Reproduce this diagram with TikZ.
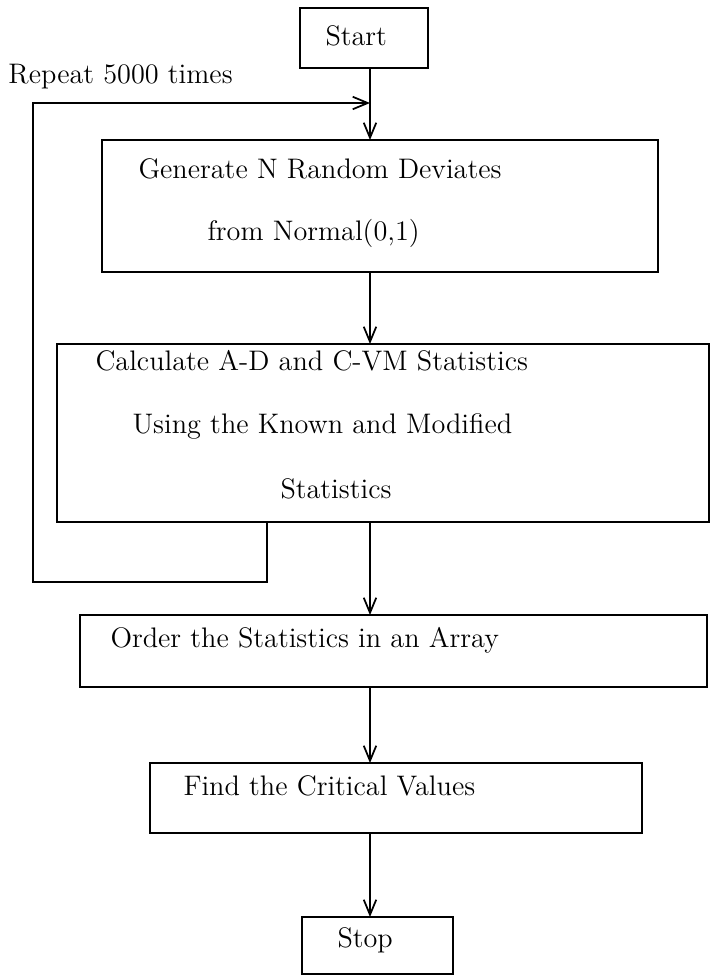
\documentclass[tikz,border=0pt]{standalone}
\usetikzlibrary{arrows.meta}
\begin{document}
\begin{tikzpicture}[x=0.4pt,y=-0.4pt]
\tikzset{
  box/.style={draw, line width=0.8pt, rectangle, inner sep=0pt, outer sep=0pt},
  lbl/.style={anchor=base west, inner sep=0pt, font=\fontsize{11.3}{13.5}\selectfont},
  arr/.style={line width=0.7pt, -{Straight Barb[length=6pt,width=5pt,line width=0.7pt]}}
}
\useasboundingbox (0,0) rectangle (710,975);
% boxes
\node[box, minimum width=51.2pt, minimum height=24pt] (start) at (364,38) {};
\node[box, minimum width=222.4pt, minimum height=52.8pt] (gen) at (380,206) {};
\node[box, minimum width=260.8pt, minimum height=71.2pt] (calc) at (383,433) {};
\node[box, minimum width=250.8pt, minimum height=28.8pt] (ord) at (393.5,651) {};
\node[box, minimum width=196.8pt, minimum height=28pt] (find) at (396,798) {};
\node[box, minimum width=60.4pt, minimum height=22.8pt] (stop) at (377.5,945.5) {};
% texts
\node[lbl] (rep) at (8,83) {Repeat 5000 times};
\node[lbl] (startT) at (325,45) {Start};
\node[lbl] (gen1) at (138,178) {Generate N Random Deviates};
\node[lbl] (gen2) at (207,240) {from Normal(0,1)};
\node[lbl] (calc1) at (95,370) {Calculate A-D and C-VM Statistics};
\node[lbl] (calc2) at (132,433) {Using the Known and Modified};
\node[lbl] (calc3) at (280,498) {Statistics};
\node[lbl] (ordT) at (110,647) {Order the Statistics in an Array};
\node[lbl] (findT) at (183,795) {Find the Critical Values};
\node[lbl] (stopT) at (337,947) {Stop};
% connector coordinates
\coordinate (ax) at (370,0);
\coordinate (lp) at (267,0);
\coordinate (lb) at (267,582);
\coordinate (ll) at (33,582);
\coordinate (lt) at (33,103);
\coordinate (lj) at (370,103);
% main arrows
\draw[arr] (start.south -| ax) -- (gen.north -| ax);
\draw[arr] (gen.south -| ax) -- (calc.north -| ax);
\draw[arr] (calc.south -| ax) -- (ord.north -| ax);
\draw[arr] (ord.south -| ax) -- (find.north -| ax);
\draw[arr] (find.south -| ax) -- (stop.north -| ax);
% loop
\draw[arr] (calc.south -| lp) -- (lb) -- (ll) -- (lt) -- (lj);
\end{tikzpicture}
\end{document}
